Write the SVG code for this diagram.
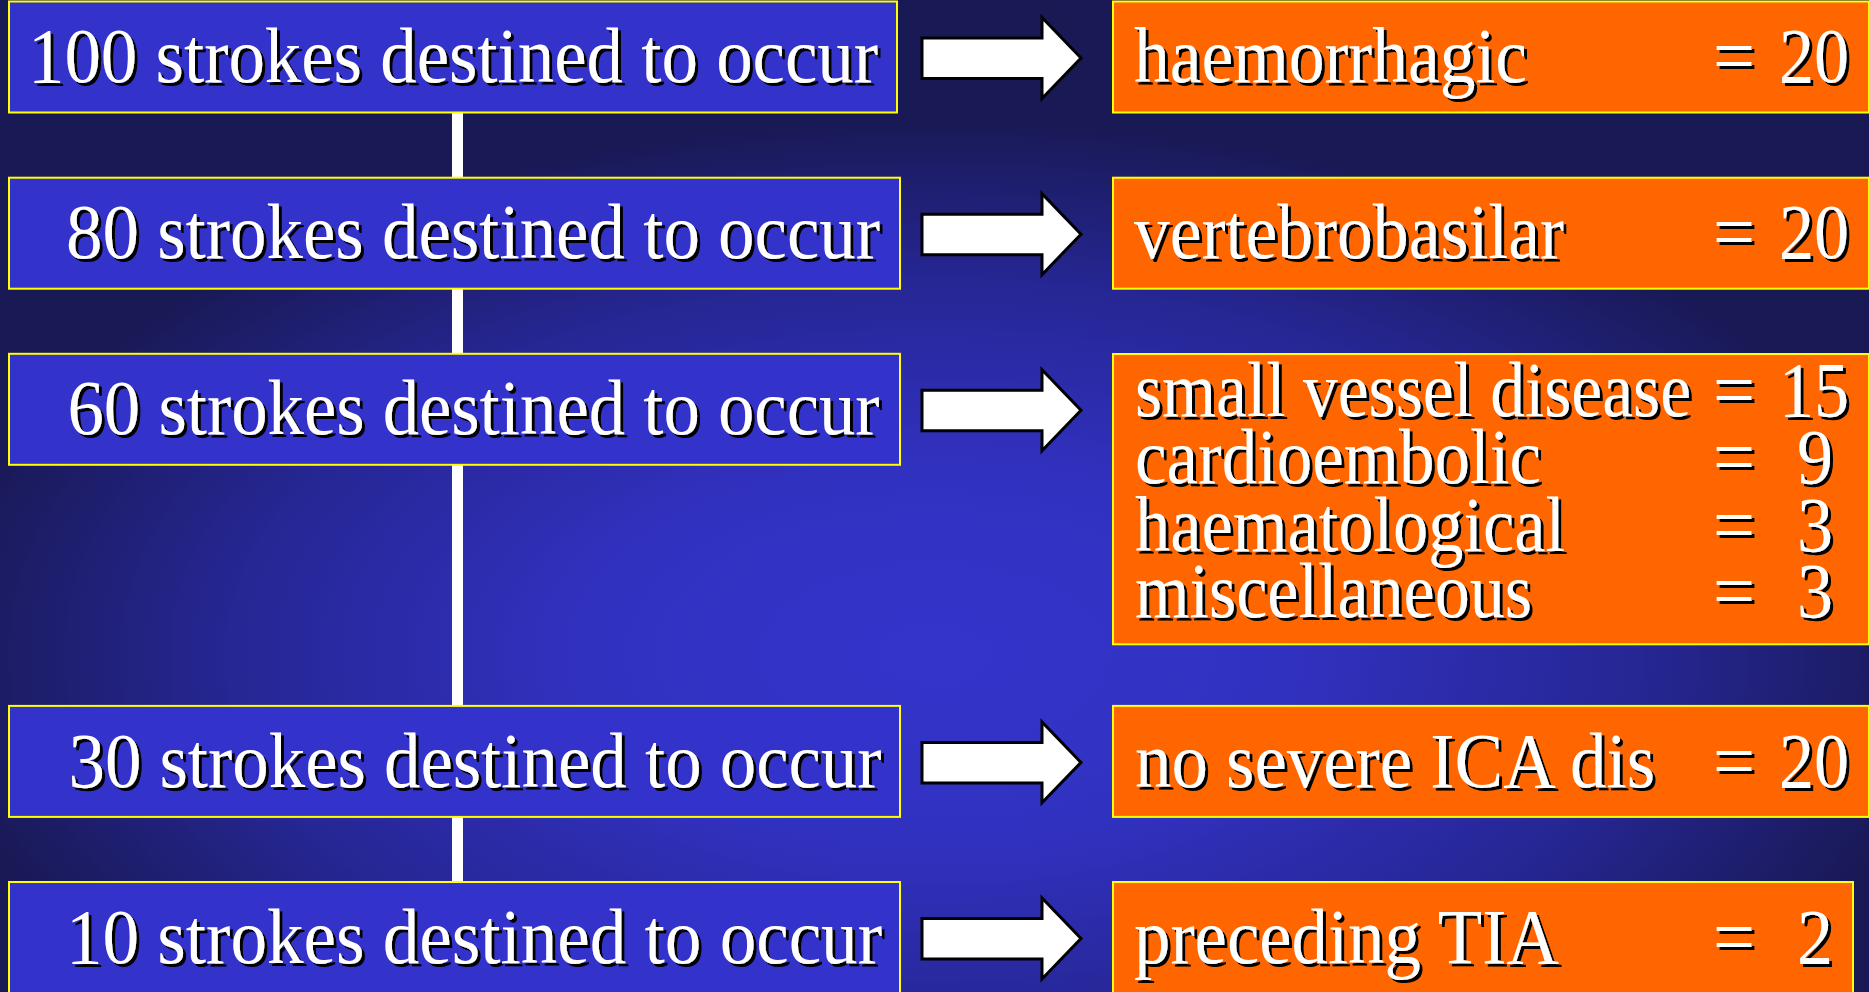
<svg xmlns="http://www.w3.org/2000/svg" xmlns:xlink="http://www.w3.org/1999/xlink" width="1869" height="992" viewBox="0 0 1869 992">
  <defs>
    <radialGradient id="bg" cx="0.5" cy="0.66" r="0.54" fx="0.5" fy="0.66">
      <stop offset="0" stop-color="#3434CC"/>
      <stop offset="0.35" stop-color="#3131C0"/>
      <stop offset="0.7" stop-color="#262694"/>
      <stop offset="1" stop-color="#191956"/>
    </radialGradient>
    <filter id="ds" x="-5%" y="-20%" width="110%" height="140%">
      <feDropShadow dx="3" dy="3" stdDeviation="0" flood-color="#000000" flood-opacity="1"/>
    </filter>
    <polygon id="arrow" points="922,36.5 1042,36.5 1042,16 1081,56.5 1042,97 1042,77 922,77"/>
  </defs>
  <style>
    .lbox { fill: #3333CC; stroke: #FFFF00; stroke-width: 2; }
    .rbox { fill: #FF6600; stroke: #FFFF00; stroke-width: 2; }
    .arr { fill: #FFFFFF; stroke: #000000; stroke-width: 3; stroke-linejoin: miter; }
    text { font-family: "Liberation Serif", "Times New Roman", serif; font-size: 78px; fill: #FFFFFF; filter: url(#ds); }
    .num { text-anchor: end; }
  </style>

  <rect x="0" y="0" width="1869" height="992" fill="url(#bg)"/>

  <g id="connectors">
    <rect x="452" y="112" width="11" height="771" fill="#FFFFFF"/>
    <use xlink:href="#arrow" class="arr" transform="translate(0,1.5)"/>
    <use xlink:href="#arrow" class="arr" transform="translate(0,177.7)"/>
    <use xlink:href="#arrow" class="arr" transform="translate(0,353.8)"/>
    <use xlink:href="#arrow" class="arr" transform="translate(0,705.9)"/>
    <use xlink:href="#arrow" class="arr" transform="translate(0,882)"/>
  </g>

  <g id="s100">
    <rect class="lbox" x="9" y="1.5" width="888" height="111"/>
    <text x="28" y="82" textLength="850" lengthAdjust="spacingAndGlyphs">100 strokes destined to occur</text>
  </g>
  <g id="s80">
    <rect class="lbox" x="9" y="177.7" width="891" height="111"/>
    <text x="66" y="258.2" textLength="814" lengthAdjust="spacingAndGlyphs">80 strokes destined to occur</text>
  </g>
  <g id="s60">
    <rect class="lbox" x="9" y="353.8" width="891" height="111"/>
    <text x="67.5" y="434.3" textLength="812" lengthAdjust="spacingAndGlyphs">60 strokes destined to occur</text>
  </g>
  <g id="s30">
    <rect class="lbox" x="9" y="705.9" width="891" height="111"/>
    <text x="68.5" y="786.5" textLength="813" lengthAdjust="spacingAndGlyphs">30 strokes destined to occur</text>
  </g>
  <g id="s10">
    <rect class="lbox" x="9" y="882" width="891" height="120"/>
    <text x="66" y="963" textLength="816" lengthAdjust="spacingAndGlyphs">10 strokes destined to occur</text>
  </g>

  <g id="haemorrhagic">
    <rect class="rbox" x="1113" y="1.5" width="756" height="111"/>
    <text x="1134" y="82" textLength="393" lengthAdjust="spacingAndGlyphs">haemorrhagic</text>
    <text x="1713" y="82" textLength="42" lengthAdjust="spacingAndGlyphs">=</text>
    <text class="num" x="1849" y="82" textLength="70" lengthAdjust="spacingAndGlyphs">20</text>
  </g>
  <g id="vertebrobasilar">
    <rect class="rbox" x="1113" y="177.7" width="756" height="111"/>
    <text x="1134" y="258.2" textLength="430" lengthAdjust="spacingAndGlyphs">vertebrobasilar</text>
    <text x="1713" y="258.2" textLength="42" lengthAdjust="spacingAndGlyphs">=</text>
    <text class="num" x="1849" y="258.2" textLength="70" lengthAdjust="spacingAndGlyphs">20</text>
  </g>
  <g id="other-causes">
    <rect class="rbox" x="1113" y="354" width="756" height="290.3"/>
    <text x="1135" y="416" textLength="556" lengthAdjust="spacingAndGlyphs">small vessel disease</text>
    <text x="1713" y="416" textLength="42" lengthAdjust="spacingAndGlyphs">=</text>
    <text class="num" x="1849" y="416" textLength="70" lengthAdjust="spacingAndGlyphs">15</text>
    <text x="1135" y="483.3" textLength="406" lengthAdjust="spacingAndGlyphs">cardioembolic</text>
    <text x="1713" y="483.3" textLength="42" lengthAdjust="spacingAndGlyphs">=</text>
    <text class="num" x="1833" y="483.3" textLength="36" lengthAdjust="spacingAndGlyphs">9</text>
    <text x="1135" y="550.7" textLength="430" lengthAdjust="spacingAndGlyphs">haematological</text>
    <text x="1713" y="550.7" textLength="42" lengthAdjust="spacingAndGlyphs">=</text>
    <text class="num" x="1833" y="550.7" textLength="36" lengthAdjust="spacingAndGlyphs">3</text>
    <text x="1135" y="617.3" textLength="397" lengthAdjust="spacingAndGlyphs">miscellaneous</text>
    <text x="1713" y="617.3" textLength="42" lengthAdjust="spacingAndGlyphs">=</text>
    <text class="num" x="1833" y="617.3" textLength="36" lengthAdjust="spacingAndGlyphs">3</text>
  </g>
  <g id="no-severe-ica">
    <rect class="rbox" x="1113" y="705.9" width="756" height="111"/>
    <text x="1135" y="786.5" textLength="520" lengthAdjust="spacingAndGlyphs">no severe ICA dis</text>
    <text x="1713" y="786.5" textLength="42" lengthAdjust="spacingAndGlyphs">=</text>
    <text class="num" x="1849" y="786.5" textLength="70" lengthAdjust="spacingAndGlyphs">20</text>
  </g>
  <g id="preceding-tia">
    <rect class="rbox" x="1113" y="882" width="740" height="120"/>
    <text x="1134" y="963" textLength="425" lengthAdjust="spacingAndGlyphs">preceding TIA</text>
    <text x="1713" y="963" textLength="42" lengthAdjust="spacingAndGlyphs">=</text>
    <text class="num" x="1833" y="963" textLength="36" lengthAdjust="spacingAndGlyphs">2</text>
  </g>
</svg>
